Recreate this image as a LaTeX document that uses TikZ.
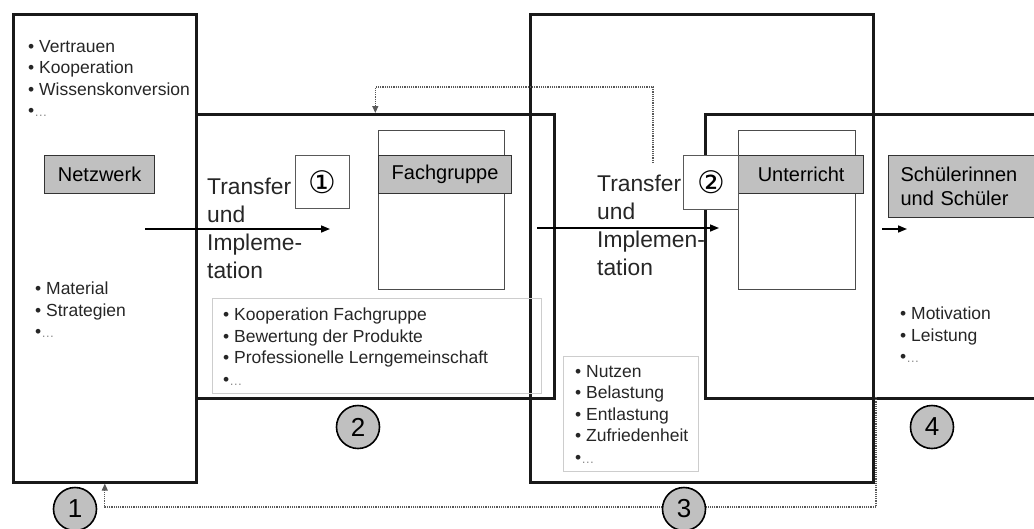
\documentclass[tikz,border=0pt]{standalone}
\usepackage{fontspec}
\setmainfont{Liberation Sans}
\newfontfamily\markfont{DejaVu Sans}
\usetikzlibrary{arrows.meta}
\definecolor{taggray}{RGB}{192,192,192}
\definecolor{framegray}{RGB}{205,205,205}
\newcommand{\etc}{•{\color{black!45}\fontsize{13}{13}\selectfont …}}

\begin{document}
\begin{tikzpicture}[x=1pt,y=-1pt,
    bigbox/.style={draw=black!90,line width=2.6pt,anchor=north west,inner sep=0pt},
    colbox/.style={draw=black!70,line width=1.2pt,anchor=north west,inner sep=0pt},
    tag/.style={draw=black!80,line width=1.2pt,fill=taggray,anchor=north west,inner sep=0pt,font=\fontsize{20}{24}\selectfont},
    markbox/.style={draw=black!65,line width=1pt,fill=white,anchor=north west,inner sep=0pt,font=\markfont\fontsize{31}{31}\selectfont},
    listbox/.style={draw=framegray,line width=0.8pt,anchor=north west,inner sep=0pt},
    items/.style={anchor=north west,align=left,inner sep=0pt,text=black!85,font=\fontsize{17.5}{21.5}\selectfont},
    flowtext/.style={anchor=north west,align=left,inner sep=0pt,text=black!85,font=\fontsize{22.8}{28}\selectfont},
    stage/.style={circle,draw=black,line width=1.6pt,fill=taggray,minimum size=43pt,inner sep=0pt,font=\fontsize{26}{26}\selectfont},
    flow/.style={line width=1.6pt,-{Triangle[length=9pt,width=7pt]}},
    fback/.style={densely dotted,line width=1.2pt,draw=black!65,-{Triangle[length=7pt,width=6pt]}}]
    \useasboundingbox (0,0) rectangle (1034,528);

    % large frames
    \node[bigbox,minimum width=183pt,minimum height=468pt] (netzbox) at (12,13) {};
    \node[bigbox,minimum width=358pt,minimum height=284pt] (fachbox) at (195,113) {};
    \node[bigbox,minimum width=343pt,minimum height=468pt] (lehrbox) at (529,13) {};
    \node[bigbox,minimum width=340pt,minimum height=284pt] (schuelbox) at (704,113) {};

    % columns and labels
    \node[colbox,minimum width=126pt,minimum height=159pt] (fachcol) at (378,130) {};
    \node[colbox,minimum width=117pt,minimum height=159pt] (untercol) at (738,130) {};
    \node[tag,minimum width=110pt,minimum height=38pt] (netz) at (44,155) {Netzwerk};
    \node[tag,minimum width=133pt,minimum height=38pt] (fach) at (378,155) {Fachgruppe};
    \node[tag,minimum width=125pt,minimum height=38pt] (unter) at (738,155) {Unterricht};
    \node[tag,minimum height=62pt,inner xsep=12pt,text width=136pt,align=left] (schueler) at (888,155) {Schülerinnen\\und Schüler};

    % lists
    \node[items] (netzup) at (28,40) {• Vertrauen\\• Kooperation\\• Wissenskonversion\\\etc};
    \node[items] (netzdown) at (35,282) {• Material\\• Strategien\\\etc};
    \node[listbox,minimum width=329pt,minimum height=95pt] (fachframe) at (212,298) {};
    \node[items] (fachlist) at (223,308) {• Kooperation Fachgruppe\\• Bewertung der Produkte\\• Professionelle Lerngemeinschaft\\\etc};
    \node[listbox,minimum width=135pt,minimum height=115pt] (lehrframe) at (563,356) {};
    \node[items] (lehrlist) at (575,365) {• Nutzen\\• Belastung\\• Entlastung\\• Zufriedenheit\\\etc};
    \node[items] (schuellist) at (900,307) {• Motivation\\• Leistung\\\etc};

    % transfer
    \node[flowtext] (transfer1) at (207,178) {Transfer\\und\\Impleme-\\tation};
    \node[flowtext] (transfer2) at (597,175) {Transfer\\und\\Implemen-\\tation};
    \node[markbox,minimum width=54pt,minimum height=53pt] (mark1) at (295,155) {①};
    \node[markbox,minimum width=55pt,minimum height=54pt] (mark2) at (683,155) {②};

    \coordinate (in1) at (145,229);
    \coordinate (out1) at (330,229);
    \coordinate (in2) at (537,228);
    \coordinate (out2) at (719,228);
    \coordinate (in3) at (882,229);
    \coordinate (out3) at (907,229);
    \draw[flow] (in1) -- (out1);
    \draw[flow] (in2) -- (out2);
    \draw[flow] (in3) -- (out3);

    % feedback
    \coordinate (back1) at (653,163);
    \coordinate (back2) at (876,397);
    \draw[fback] (back1) -- ++(0,-76) -| (fachbox.north);
    \draw[fback] (back2) -- ++(0,110) -| (netzbox.south);

    \node[stage] (stage1) at (75,509) {1};
    \node[stage] (stage2) at (358,427) {2};
    \node[stage] (stage3) at (684,509) {3};
    \node[stage] (stage4) at (932,427) {4};
\end{tikzpicture}
\end{document}
